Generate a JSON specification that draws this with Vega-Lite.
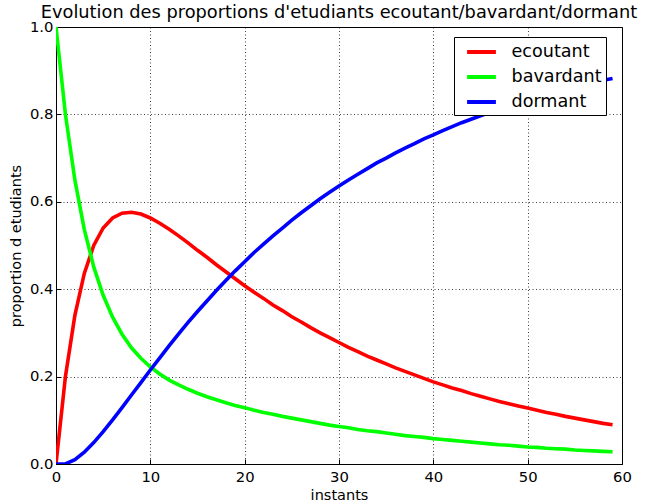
{
  "$schema": "https://vega.github.io/schema/vega-lite/v6.json",
  "width": 566,
  "height": 437,
  "autosize": {"type": "none"},
  "padding": {"left": 56, "top": 27, "right": 26, "bottom": 39},
  "background": "white",
  "config": {
    "font": "DejaVu Sans",
    "view": {"stroke": "#000", "strokeWidth": 1},
    "axis": {
      "domain": true,
      "domainColor": "#000",
      "domainWidth": 1,
      "tickColor": "#000",
      "tickSize": -5,
      "tickWidth": 1,
      "labelFont": "DejaVu Sans",
      "labelFontSize": 14.8,
      "labelColor": "#000",
      "titleFont": "DejaVu Sans",
      "titleFontSize": 14.5,
      "titleFontWeight": "normal",
      "titleColor": "#000",
      "grid": true,
      "gridColor": "#000",
      "gridDash": [1, 2.5],
      "gridWidth": 1,
      "gridOpacity": 0.75
    }
  },
  "title": {
    "text": "Evolution des proportions d'etudiants ecoutant/bavardant/dormant",
    "font": "DejaVu Sans",
    "fontSize": 17.8,
    "fontWeight": "normal",
    "color": "#000",
    "anchor": "middle",
    "frame": "group",
    "offset": -3
  },
  "data": {
    "values": [
      {"t":0,"s":"ecoutant","v":0},{"t":1,"s":"ecoutant","v":0.2},{"t":2,"s":"ecoutant","v":0.34},{"t":3,"s":"ecoutant","v":0.436},{"t":4,"s":"ecoutant","v":0.5},{"t":5,"s":"ecoutant","v":0.54},{"t":6,"s":"ecoutant","v":0.563},{"t":7,"s":"ecoutant","v":0.574},{"t":8,"s":"ecoutant","v":0.576},{"t":9,"s":"ecoutant","v":0.572},
      {"t":10,"s":"ecoutant","v":0.563},{"t":11,"s":"ecoutant","v":0.551},{"t":12,"s":"ecoutant","v":0.537},{"t":13,"s":"ecoutant","v":0.522},{"t":14,"s":"ecoutant","v":0.506},{"t":15,"s":"ecoutant","v":0.489},{"t":16,"s":"ecoutant","v":0.473},{"t":17,"s":"ecoutant","v":0.456},{"t":18,"s":"ecoutant","v":0.44},{"t":19,"s":"ecoutant","v":0.424},
      {"t":20,"s":"ecoutant","v":0.408},{"t":21,"s":"ecoutant","v":0.393},{"t":22,"s":"ecoutant","v":0.379},{"t":23,"s":"ecoutant","v":0.364},{"t":24,"s":"ecoutant","v":0.351},{"t":25,"s":"ecoutant","v":0.337},{"t":26,"s":"ecoutant","v":0.325},{"t":27,"s":"ecoutant","v":0.312},{"t":28,"s":"ecoutant","v":0.3},{"t":29,"s":"ecoutant","v":0.289},
      {"t":30,"s":"ecoutant","v":0.278},{"t":31,"s":"ecoutant","v":0.267},{"t":32,"s":"ecoutant","v":0.257},{"t":33,"s":"ecoutant","v":0.247},{"t":34,"s":"ecoutant","v":0.238},{"t":35,"s":"ecoutant","v":0.229},{"t":36,"s":"ecoutant","v":0.22},{"t":37,"s":"ecoutant","v":0.212},{"t":38,"s":"ecoutant","v":0.204},{"t":39,"s":"ecoutant","v":0.196},
      {"t":40,"s":"ecoutant","v":0.188},{"t":41,"s":"ecoutant","v":0.181},{"t":42,"s":"ecoutant","v":0.174},{"t":43,"s":"ecoutant","v":0.168},{"t":44,"s":"ecoutant","v":0.161},{"t":45,"s":"ecoutant","v":0.155},{"t":46,"s":"ecoutant","v":0.149},{"t":47,"s":"ecoutant","v":0.143},{"t":48,"s":"ecoutant","v":0.138},{"t":49,"s":"ecoutant","v":0.133},
      {"t":50,"s":"ecoutant","v":0.128},{"t":51,"s":"ecoutant","v":0.123},{"t":52,"s":"ecoutant","v":0.118},{"t":53,"s":"ecoutant","v":0.114},{"t":54,"s":"ecoutant","v":0.109},{"t":55,"s":"ecoutant","v":0.105},{"t":56,"s":"ecoutant","v":0.101},{"t":57,"s":"ecoutant","v":0.097},{"t":58,"s":"ecoutant","v":0.093},{"t":59,"s":"ecoutant","v":0.09},
      {"t":0,"s":"bavardant","v":1},{"t":1,"s":"bavardant","v":0.8},{"t":2,"s":"bavardant","v":0.65},{"t":3,"s":"bavardant","v":0.537},{"t":4,"s":"bavardant","v":0.451},{"t":5,"s":"bavardant","v":0.386},{"t":6,"s":"bavardant","v":0.336},{"t":7,"s":"bavardant","v":0.297},{"t":8,"s":"bavardant","v":0.266},{"t":9,"s":"bavardant","v":0.242},
      {"t":10,"s":"bavardant","v":0.222},{"t":11,"s":"bavardant","v":0.206},{"t":12,"s":"bavardant","v":0.192},{"t":13,"s":"bavardant","v":0.181},{"t":14,"s":"bavardant","v":0.171},{"t":15,"s":"bavardant","v":0.162},{"t":16,"s":"bavardant","v":0.154},{"t":17,"s":"bavardant","v":0.147},{"t":18,"s":"bavardant","v":0.14},{"t":19,"s":"bavardant","v":0.134},
      {"t":20,"s":"bavardant","v":0.129},{"t":21,"s":"bavardant","v":0.123},{"t":22,"s":"bavardant","v":0.118},{"t":23,"s":"bavardant","v":0.114},{"t":24,"s":"bavardant","v":0.109},{"t":25,"s":"bavardant","v":0.105},{"t":26,"s":"bavardant","v":0.101},{"t":27,"s":"bavardant","v":0.097},{"t":28,"s":"bavardant","v":0.093},{"t":29,"s":"bavardant","v":0.089},
      {"t":30,"s":"bavardant","v":0.086},{"t":31,"s":"bavardant","v":0.083},{"t":32,"s":"bavardant","v":0.079},{"t":33,"s":"bavardant","v":0.076},{"t":34,"s":"bavardant","v":0.074},{"t":35,"s":"bavardant","v":0.071},{"t":36,"s":"bavardant","v":0.068},{"t":37,"s":"bavardant","v":0.065},{"t":38,"s":"bavardant","v":0.063},{"t":39,"s":"bavardant","v":0.061},
      {"t":40,"s":"bavardant","v":0.058},{"t":41,"s":"bavardant","v":0.056},{"t":42,"s":"bavardant","v":0.054},{"t":43,"s":"bavardant","v":0.052},{"t":44,"s":"bavardant","v":0.05},{"t":45,"s":"bavardant","v":0.048},{"t":46,"s":"bavardant","v":0.046},{"t":47,"s":"bavardant","v":0.044},{"t":48,"s":"bavardant","v":0.043},{"t":49,"s":"bavardant","v":0.041},
      {"t":50,"s":"bavardant","v":0.039},{"t":51,"s":"bavardant","v":0.038},{"t":52,"s":"bavardant","v":0.036},{"t":53,"s":"bavardant","v":0.035},{"t":54,"s":"bavardant","v":0.034},{"t":55,"s":"bavardant","v":0.032},{"t":56,"s":"bavardant","v":0.031},{"t":57,"s":"bavardant","v":0.03},{"t":58,"s":"bavardant","v":0.029},{"t":59,"s":"bavardant","v":0.028},
      {"t":0,"s":"dormant","v":0},{"t":1,"s":"dormant","v":0},{"t":2,"s":"dormant","v":0.01},{"t":3,"s":"dormant","v":0.027},{"t":4,"s":"dormant","v":0.049},{"t":5,"s":"dormant","v":0.074},{"t":6,"s":"dormant","v":0.101},{"t":7,"s":"dormant","v":0.129},{"t":8,"s":"dormant","v":0.158},{"t":9,"s":"dormant","v":0.186},
      {"t":10,"s":"dormant","v":0.215},{"t":11,"s":"dormant","v":0.243},{"t":12,"s":"dormant","v":0.271},{"t":13,"s":"dormant","v":0.298},{"t":14,"s":"dormant","v":0.324},{"t":15,"s":"dormant","v":0.349},{"t":16,"s":"dormant","v":0.373},{"t":17,"s":"dormant","v":0.397},{"t":18,"s":"dormant","v":0.42},{"t":19,"s":"dormant","v":0.442},
      {"t":20,"s":"dormant","v":0.463},{"t":21,"s":"dormant","v":0.484},{"t":22,"s":"dormant","v":0.503},{"t":23,"s":"dormant","v":0.522},{"t":24,"s":"dormant","v":0.54},{"t":25,"s":"dormant","v":0.558},{"t":26,"s":"dormant","v":0.575},{"t":27,"s":"dormant","v":0.591},{"t":28,"s":"dormant","v":0.607},{"t":29,"s":"dormant","v":0.622},
      {"t":30,"s":"dormant","v":0.636},{"t":31,"s":"dormant","v":0.65},{"t":32,"s":"dormant","v":0.663},{"t":33,"s":"dormant","v":0.676},{"t":34,"s":"dormant","v":0.689},{"t":35,"s":"dormant","v":0.7},{"t":36,"s":"dormant","v":0.712},{"t":37,"s":"dormant","v":0.723},{"t":38,"s":"dormant","v":0.733},{"t":39,"s":"dormant","v":0.744},
      {"t":40,"s":"dormant","v":0.753},{"t":41,"s":"dormant","v":0.763},{"t":42,"s":"dormant","v":0.772},{"t":43,"s":"dormant","v":0.781},{"t":44,"s":"dormant","v":0.789},{"t":45,"s":"dormant","v":0.797},{"t":46,"s":"dormant","v":0.805},{"t":47,"s":"dormant","v":0.812},{"t":48,"s":"dormant","v":0.819},{"t":49,"s":"dormant","v":0.826},
      {"t":50,"s":"dormant","v":0.833},{"t":51,"s":"dormant","v":0.839},{"t":52,"s":"dormant","v":0.845},{"t":53,"s":"dormant","v":0.851},{"t":54,"s":"dormant","v":0.857},{"t":55,"s":"dormant","v":0.863},{"t":56,"s":"dormant","v":0.868},{"t":57,"s":"dormant","v":0.873},{"t":58,"s":"dormant","v":0.878},{"t":59,"s":"dormant","v":0.882}
    ]
  },
  "mark": {"type": "line", "strokeWidth": 3.6, "clip": true},
  "encoding": {
    "x": {
      "field": "t",
      "type": "quantitative",
      "scale": {"domain": [0, 60], "nice": false, "zero": false},
      "axis": {"title": "instants", "values": [0, 10, 20, 30, 40, 50, 60], "labelPadding": 10, "titlePadding": 5, "labelFlush": false}
    },
    "y": {
      "field": "v",
      "type": "quantitative",
      "scale": {"domain": [0, 1], "nice": false},
      "axis": {"title": "proportion d etudiants", "values": [0, 0.2, 0.4, 0.6, 0.8, 1], "format": ".1f", "labelPadding": 8, "titlePadding": 6, "labelFlush": false}
    },
    "color": {
      "field": "s",
      "type": "nominal",
      "scale": {"domain": ["ecoutant", "bavardant", "dormant"], "range": ["#ff0000", "#00ff00", "#0000ff"]},
      "legend": {
        "orient": "none",
        "legendX": 398,
        "legendY": 10,
        "title": null,
        "symbolType": "M-1.6,0H1.6",
        "symbolSize": 324,
        "symbolStrokeWidth": 4,
        "labelFont": "DejaVu Sans",
        "labelFontSize": 17.6,
        "labelColor": "#000",
        "padding": 4,
        "rowPadding": 5,
        "labelOffset": 19,
        "symbolOffset": 12.5,
        "strokeColor": "#000",
        "fillColor": "#fff",
        "cornerRadius": 0
      }
    }
  }
}
